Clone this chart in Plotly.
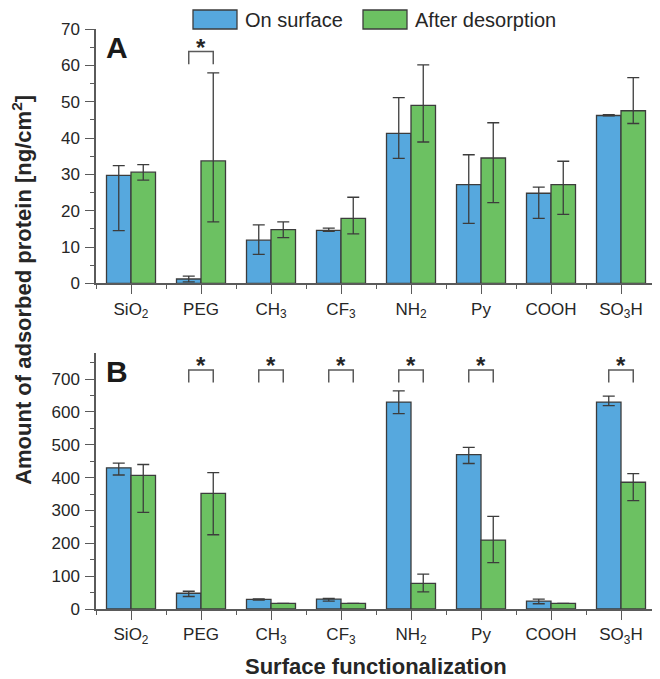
import numpy as np
import plotly.graph_objects as go

categories = ["SiO<sub>2</sub>", "PEG", "CH<sub>3</sub>", "CF<sub>3</sub>",
              "NH<sub>2</sub>", "Py", "COOH", "SO<sub>3</sub>H"]

# Panel A (ng/cm2)
a_surface = [29.7, 1.2, 11.9, 14.6, 41.3, 27.2, 24.8, 46.2]
a_surface_plus = [2.7, 0.8, 4.2, 0.6, 9.8, 8.2, 1.7, 0.2]
a_surface_minus = [15.2, 0.8, 3.9, 0.3, 6.9, 10.7, 6.9, 0.1]
a_desorb = [30.6, 33.7, 14.8, 17.9, 49.0, 34.5, 27.2, 47.5]
a_desorb_plus = [2.1, 24.2, 2.1, 5.8, 11.1, 9.7, 6.4, 9.1]
a_desorb_minus = [2.2, 16.8, 2.2, 4.3, 10.1, 12.3, 8.2, 3.5]
a_signif = [False, True, False, False, False, False, False, False]

# Panel B
b_surface = [430, 48, 29, 30, 630, 470, 24, 630]
b_surface_plus = [14, 6, 2, 2, 34, 22, 6, 18]
b_surface_minus = [22, 10, 2, 6, 35, 27, 8, 11]
b_desorb = [407, 352, 17, 17, 78, 210, 17, 386]
b_desorb_plus = [33, 63, 0, 0, 28, 72, 0, 26]
b_desorb_minus = [113, 126, 0, 0, 26, 69, 0, 56]
b_signif = [False, True, True, True, True, True, False, True]

BLUE = "#56a8de"
GREEN = "#6cc162"
EDGE = "#3c3c3c"
AXIS = "#5a5a5a"
TXT = "#262626"
FONT = "Liberation Sans, Arial, sans-serif"

# the page body adds an 8px margin, so the figure is drawn 8px smaller
OFF = 8
W, H = 660 - OFF, 679 - OFF
ML, MR, MT, MB = 96 - OFF, 4, 29 - OFF, H - (609.3 - OFF)
ph = H - MT - MB
pw = W - ML - MR

def py(p):  # screen pixel y -> paper
    return (H - MB - (p - OFF)) / ph

def px(p):
    return (p - OFF - ML) / pw

xpos = np.arange(len(categories))

fig = go.Figure()

def add_bars(vals, plus, minus, color, name, xa, ya):
    fig.add_trace(go.Bar(
        x=xpos, y=vals, name=name, xaxis=xa, yaxis=ya, showlegend=False,
        marker=dict(color=color, line=dict(color=EDGE, width=1.3)),
        error_y=dict(type="data", symmetric=False, array=plus, arrayminus=minus,
                     color=EDGE, thickness=1.3, width=6),
    ))

add_bars(a_surface, a_surface_plus, a_surface_minus, BLUE, "On surface", "x", "y")
add_bars(a_desorb, a_desorb_plus, a_desorb_minus, GREEN, "After desorption", "x", "y")
add_bars(b_surface, b_surface_plus, b_surface_minus, BLUE, "On surface", "x2", "y2")
add_bars(b_desorb, b_desorb_plus, b_desorb_minus, GREEN, "After desorption", "x2", "y2")

xaxis_common = dict(
    range=[-0.5, len(categories) - 0.5], tickmode="array", tickvals=xpos,
    ticktext=categories, ticks="outside", ticklen=9, tickwidth=1.3,
    tickcolor=AXIS, showline=True, linecolor=AXIS, linewidth=1.5,
    showgrid=False, zeroline=False, tickfont=dict(size=17, color=TXT, family=FONT),
    minor=dict(tickmode="linear", tick0=0.5, dtick=1, ticks="outside",
               ticklen=4, tickwidth=1.3, tickcolor=AXIS),
)
yaxis_common = dict(
    ticks="outside", ticklen=9, tickwidth=1.3, tickcolor=AXIS,
    showline=True, linecolor=AXIS, linewidth=1.5, showgrid=False, zeroline=False,
    tickfont=dict(size=17, color=TXT, family=FONT), ticklabelstandoff=2,
)

ya_bottom = py(283.5)
yb_top = py(353)

fig.update_layout(
    width=W, height=H, margin=dict(l=ML, r=MR, t=MT, b=MB),
    paper_bgcolor="white", plot_bgcolor="white",
    barmode="group", bargap=0.3, bargroupgap=0,
    font=dict(family=FONT, color=TXT),
    xaxis=dict(xaxis_common, anchor="y", domain=[0, 1]),
    yaxis=dict(yaxis_common, anchor="x", domain=[ya_bottom, 1], range=[0, 70],
               dtick=10, minor=dict(dtick=5, ticks="outside", ticklen=4,
                                    tickwidth=1.3, tickcolor=AXIS)),
    xaxis2=dict(xaxis_common, anchor="y2", domain=[0, 1]),
    yaxis2=dict(yaxis_common, anchor="x2", domain=[0, yb_top], range=[0, 780],
                dtick=100, minor=dict(dtick=50, ticks="outside", ticklen=4,
                                      tickwidth=1.3, tickcolor=AXIS)),
)

# significance brackets
def add_brackets(signif, leg, top, xref, yref):
    for i, s in enumerate(signif):
        if not s:
            continue
        x0, x1 = i - 0.175, i + 0.175
        fig.add_shape(type="path", xref=xref, yref=yref,
                      path=f"M {x0} {leg} L {x0} {top} L {x1} {top} L {x1} {leg}",
                      line=dict(color=AXIS, width=1.5))
        fig.add_annotation(x=i, y=top, xref=xref, yref=yref, text="<b>*</b>",
                           showarrow=False, yanchor="bottom", yshift=-11,
                           font=dict(size=24, color=TXT, family=FONT))

add_brackets(a_signif, 60.3, 63.8, "x", "y")
add_brackets(b_signif, 690, 728, "x2", "y2")

# panel letters
fig.add_annotation(x=px(104), y=py(48), xref="paper", yref="paper", text="<b>A</b>",
                   showarrow=False, xanchor="left", yanchor="middle",
                   font=dict(size=30, color="#1a1a1a", family=FONT))
fig.add_annotation(x=px(104), y=py(372), xref="paper", yref="paper", text="<b>B</b>",
                   showarrow=False, xanchor="left", yanchor="middle",
                   font=dict(size=30, color="#1a1a1a", family=FONT))

# axis titles
fig.add_annotation(x=px(22), y=py(290), xref="paper", yref="paper",
                   text="<b>Amount of adsorbed protein [ng/cm<sup>2</sup>]</b>",
                   textangle=-90, showarrow=False, xanchor="center", yanchor="middle",
                   font=dict(size=22, color=TXT, family=FONT))
fig.add_annotation(x=px(376), y=py(667), xref="paper", yref="paper",
                   text="<b>Surface functionalization</b>",
                   showarrow=False, xanchor="center", yanchor="middle",
                   font=dict(size=22, color=TXT, family=FONT))

# legend drawn as boxes + labels
for x0, x1, color, label in [(193, 237, BLUE, "On surface"), (363, 407, GREEN, "After desorption")]:
    fig.add_shape(type="rect", xref="paper", yref="paper",
                  x0=px(x0), x1=px(x1), y0=py(29), y1=py(10),
                  fillcolor=color, line=dict(color=EDGE, width=1.3))
    fig.add_annotation(x=px(x1 + 6), y=py(19.5), xref="paper", yref="paper",
                       text=label, showarrow=False, xanchor="left", yanchor="middle",
                       font=dict(size=20, color=TXT, family=FONT))

fig.write_html("out.html")
